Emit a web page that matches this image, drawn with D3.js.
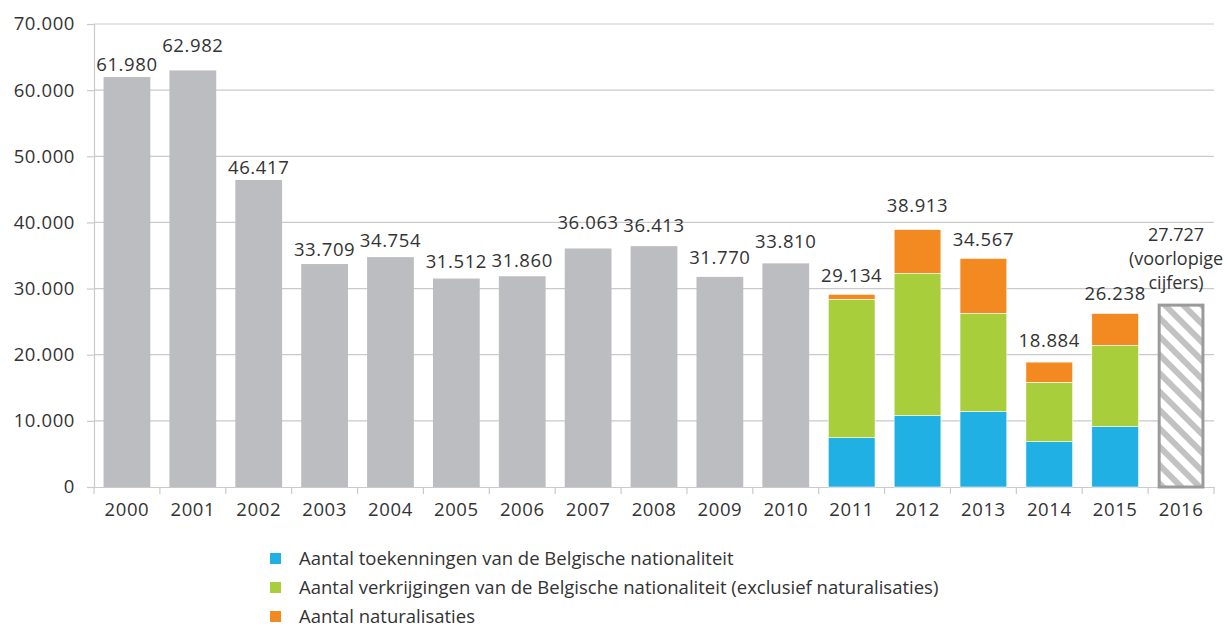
<!DOCTYPE html>
<html>
<head>
<meta charset="utf-8">
<script src="https://cdn.jsdelivr.net/npm/d3@7"></script>
<style>
  body { margin: 0; background: #fff; }
  text { font-family: "Open Sans", "Noto Sans", sans-serif; fill: #333; }
</style>
</head>
<body>
<svg id="chart" width="1228" height="628"></svg>
<script>
// years and totals
const years = ["2000","2001","2002","2003","2004","2005","2006","2007","2008","2009","2010","2011","2012","2013","2014","2015","2016"];
const totals = [61980, 62982, 46417, 33709, 34754, 31512, 31860, 36063, 36413, 31770, 33810, 29134, 38913, 34567, 18884, 26238, 27727];

// breakdown for 2011-2015
const stackYears = ["2011","2012","2013","2014","2015"];
const toekenningen = [7450, 10780, 11390, 6850, 9120];
const verkrijgingen = [20930, 21530, 14870, 8980, 12300];
const naturalisaties = [754, 6603, 8307, 3054, 4818];

const yTicks = [0, 10000, 20000, 30000, 40000, 50000, 60000, 70000];
const legendLabels = [
  "Aantal toekenningen van de Belgische nationaliteit",
  "Aantal verkrijgingen van de Belgische nationaliteit (exclusief naturalisaties)",
  "Aantal naturalisaties"
];
const seriesColors = ["#21b0e4", "#a8cf3b", "#f38a21"];

// layout: gap (px) between bar top and its value label, labels were nudged to avoid overlap
const labelGap = [6, 18, 6, 8, 10, 11, 9, 19, 14, 13, 15, 12, 18, 12, 15, 13];

const svg = d3.select("#chart");
const fmt = v => d3.format(",")(v).replace(/,/g, ".");
const numFont = "18.5px";
const numSpacing = "0.6px";

const x = d3.scaleBand().domain(years).range([94, 1214]).paddingInner(0.29).paddingOuter(0.145);
const y = d3.scaleLinear().domain([0, 70000]).range([487, 24]);

// hatch pattern for provisional year
const defs = svg.append("defs");
const pat = defs.append("pattern")
  .attr("id", "hatch")
  .attr("patternUnits", "userSpaceOnUse")
  .attr("width", 13).attr("height", 13)
  .attr("patternTransform", "rotate(45)");
pat.append("rect").attr("width", 13).attr("height", 13).attr("fill", "#fff");
pat.append("rect").attr("x", 0).attr("y", 0).attr("width", 13).attr("height", 6).attr("fill", "#c2c2c2");

// gridlines
svg.append("g")
  .selectAll("line")
  .data(yTicks.slice(1))
  .join("line")
  .attr("x1", 94).attr("x2", 1214)
  .attr("y1", d => y(d)).attr("y2", d => y(d))
  .attr("stroke", "#cacaca").attr("stroke-width", 1.2);

// y axis
const yAxis = svg.append("g")
  .attr("transform", "translate(94,0)")
  .call(d3.axisLeft(y).tickValues(yTicks).tickFormat(fmt).tickSize(7).tickPadding(12));
yAxis.select(".domain").attr("stroke", "#cacaca").attr("stroke-width", 1.2);
yAxis.selectAll(".tick line").attr("stroke", "#cacaca").attr("stroke-width", 1.2);
yAxis.selectAll("text").style("font-size", numFont).style("letter-spacing", numSpacing)
  .attr("fill", "#333").attr("font-family", null);

// x axis
const xAxis = svg.append("g")
  .attr("transform", "translate(0,487)")
  .call(d3.axisBottom(x).tickSize(0).tickPadding(16));
xAxis.select(".domain").attr("stroke", "#cacaca").attr("stroke-width", 1.2);
xAxis.selectAll("text").style("font-size", numFont).style("letter-spacing", numSpacing)
  .attr("fill", "#333").attr("font-family", null);
const step = x.step();
svg.append("g")
  .selectAll("line")
  .data(d3.range(years.length + 1))
  .join("line")
  .attr("x1", i => 94 + i * step).attr("x2", i => 94 + i * step)
  .attr("y1", 487).attr("y2", 494)
  .attr("stroke", "#cacaca").attr("stroke-width", 1.2);

// plain grey bars 2000-2010
const plainYears = years.filter(d => +d <= 2010);
svg.append("g")
  .selectAll("rect")
  .data(plainYears)
  .join("rect")
  .attr("x", d => x(d))
  .attr("width", x.bandwidth())
  .attr("y", d => y(totals[years.indexOf(d)]))
  .attr("height", d => y(0) - y(totals[years.indexOf(d)]))
  .attr("fill", "#bcbdc0");

// stacked bars 2011-2015
const stackData = stackYears.map((yr, i) => ({
  year: yr, a: toekenningen[i], b: verkrijgingen[i], c: naturalisaties[i]
}));
const stack = d3.stack().keys(["a", "b", "c"]);
const layers = stack(stackData);
svg.append("g")
  .selectAll("g")
  .data(layers)
  .join("g")
  .attr("fill", (d, i) => seriesColors[i])
  .selectAll("rect")
  .data(d => d)
  .join("rect")
  .attr("x", d => x(d.data.year))
  .attr("width", x.bandwidth())
  .attr("y", d => y(d[1]))
  .attr("height", d => y(d[0]) - y(d[1]))
  .attr("stroke", "#fff").attr("stroke-width", 0.6);

// hatched 2016 bar
const v16 = totals[years.indexOf("2016")];
svg.append("rect")
  .attr("x", x("2016") + 1.5)
  .attr("width", x.bandwidth() - 3)
  .attr("y", y(v16) + 1.5)
  .attr("height", y(0) - y(v16) - 1.5)
  .attr("fill", "url(#hatch)")
  .attr("stroke", "#9a9a9a").attr("stroke-width", 3);

// value labels
svg.append("g")
  .selectAll("text")
  .data(years.filter(d => d !== "2016"))
  .join("text")
  .attr("x", d => x(d) + x.bandwidth() / 2)
  .attr("y", (d, i) => y(totals[years.indexOf(d)]) - labelGap[i])
  .attr("text-anchor", "middle")
  .style("font-size", numFont).style("letter-spacing", numSpacing)
  .text(d => fmt(totals[years.indexOf(d)]));

const lbl16 = svg.append("text")
  .attr("text-anchor", "middle")
  .style("font-size", "18px");
[fmt(v16), "(voorlopige", "cijfers)"].forEach((t, i) => {
  lbl16.append("tspan")
    .attr("x", x("2016") + x.bandwidth() / 2 - 5)
    .attr("y", y(v16) - 63 + i * 24)
    .text(t);
});

// legend
const legend = svg.append("g").attr("transform", "translate(270,560)");
legendLabels.forEach((t, i) => {
  const g = legend.append("g").attr("transform", `translate(0,${i * 29})`);
  g.append("rect").attr("x", 0).attr("y", -7).attr("width", 11).attr("height", 11).attr("fill", seriesColors[i]);
  g.append("text").attr("x", 29).attr("y", 5).style("font-size", "18.5px").text(t);
});
</script>
</body>
</html>
